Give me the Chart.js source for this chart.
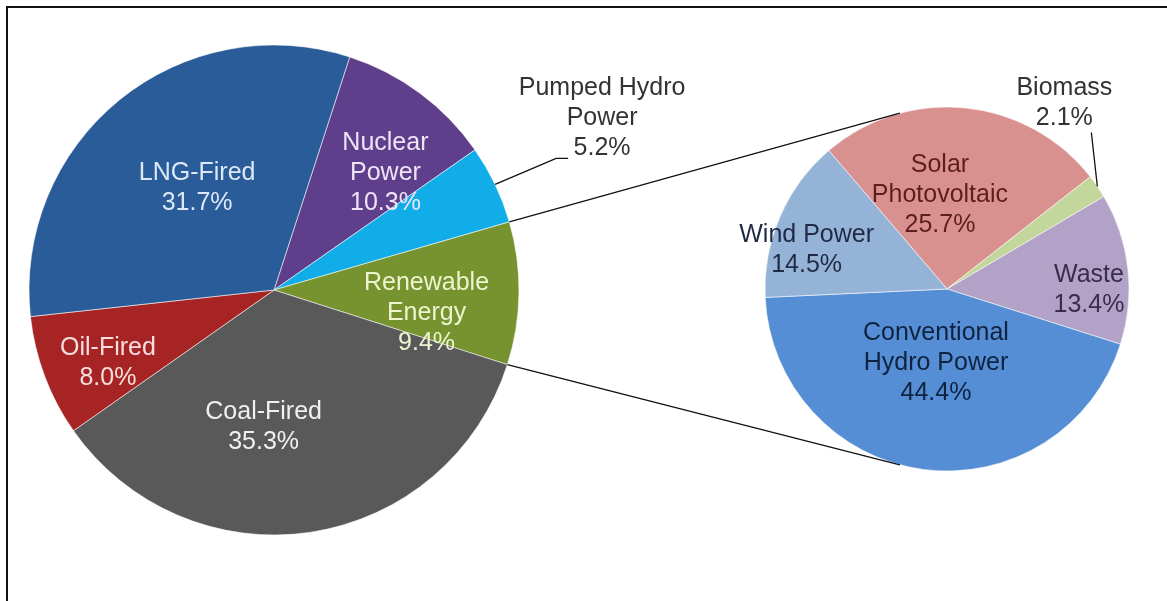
<!DOCTYPE html>
<html>
<head>
<meta charset="utf-8">
<script src="https://cdn.jsdelivr.net/npm/chart.js@4.4.1/dist/chart.umd.min.js"></script>
<style>
  html, body { margin: 0; padding: 0; background: #fff; }
  #wrap { position: relative; width: 1167px; height: 601px; overflow: hidden; }
  #wrap canvas { position: absolute; left: 0; top: 0; }
  #frame { position: absolute; left: 6px; top: 6px; width: 1300px; height: 700px;
           border-left: 2px solid #111; border-top: 2px solid #111; }
</style>
</head>
<body>
<div id="wrap">
  <div id="frame"></div>
  <canvas id="mainPie" width="1167" height="601"></canvas>
  <canvas id="subPie" width="1167" height="601"></canvas>
</div>
<script>
// Generation mix (%), clockwise in drawing order
const mainLabels = [['Nuclear', 'Power'], ['Pumped Hydro', 'Power'], ['Renewable', 'Energy'], ['Coal-Fired'], ['Oil-Fired'], ['LNG-Fired']];
const mainValues = [10.3, 5.2, 9.4, 35.3, 8.0, 31.7];
const mainColors = ['#5f3f8c', '#10ade8', '#76932f', '#595959', '#a62424', '#2a5c9a'];

// Breakdown of "Renewable Energy" (%)
const subLabels = [['Solar', 'Photovoltaic'], ['Biomass'], ['Waste'], ['Conventional', 'Hydro Power'], ['Wind Power']];
const subValues = [25.7, 2.1, 13.4, 44.4, 14.5];
const subColors = ['#d9918f', '#c3d69b', '#b3a2c7', '#558ed5', '#95b3d7'];

const EXPLODED = 2; // index of Renewable Energy in the main pie
const LABEL_FONT = '25px "Liberation Sans", Arial, sans-serif';
const LINE_H = 30;

// label placement: r = fraction of radius, turn = degrees off mid-angle
const mainLabelStyle = [
    { color: '#ede5f5', r: 0.66, turn: 7 },
    { color: '#333333', lead: [61, -26], arm: 12, text: [34, -40] },
    { color: '#eef4cf', r: 0.63, turn: 8 },
    { color: '#f0f0f0', r: 0.56, turn: 13 },
    { color: '#f6dede', r: 0.74, turn: -3 },
    { color: '#dde8f6', r: 0.52, turn: 2 }
];
const subLabelStyle = [
    { color: '#5c1f1e', r: 0.52, turn: -10 },
    { color: '#333333', lead: [-6, -54], arm: 0, text: [-27, -29] },
    { color: '#3a2c4d', r: 0.78, turn: 7 },
    { color: '#0f2340', r: 0.41, turn: 1 },
    { color: '#1f2a44', r: 0.80, turn: -8 }
];

function drawLabels(chart, labels, values, styles) {
    const ctx = chart.ctx;
    const arcs = chart.getDatasetMeta(0).data;
    ctx.save();
    ctx.font = LABEL_FONT;
    ctx.textAlign = 'center';
    ctx.textBaseline = 'middle';
    arcs.forEach((arc, i) => {
        const s = styles[i];
        const p = arc.getProps(['x', 'y', 'startAngle', 'endAngle', 'outerRadius'], true);
        const mid = (p.startAngle + p.endAngle) / 2;
        const lines = labels[i].concat(values[i].toFixed(1) + '%');
        let cx, cy;
        if (s.lead) {
            const ex = p.x + Math.cos(mid) * p.outerRadius;
            const ey = p.y + Math.sin(mid) * p.outerRadius;
            const lx = ex + s.lead[0], ly = ey + s.lead[1];
            ctx.strokeStyle = '#111';
            ctx.lineWidth = 1.3;
            ctx.beginPath();
            ctx.moveTo(ex, ey);
            ctx.lineTo(lx, ly);
            ctx.lineTo(lx + s.arm, ly);
            ctx.stroke();
            cx = lx + s.arm + s.text[0];
            cy = ly + s.text[1];
        } else {
            const a = mid + s.turn * Math.PI / 180;
            cx = p.x + Math.cos(a) * p.outerRadius * s.r;
            cy = p.y + Math.sin(a) * p.outerRadius * s.r;
        }
        ctx.fillStyle = s.color;
        const top = cy - (lines.length - 1) * LINE_H / 2;
        lines.forEach((t, k) => ctx.fillText(t, cx, top + k * LINE_H));
    });
    ctx.restore();
}

function pieOptions(rotation, radius, padding) {
    return {
        responsive: false,
        devicePixelRatio: 1,
        animation: false,
        rotation: rotation,
        radius: radius,
        layout: { padding: padding },
        plugins: { legend: { display: false }, tooltip: { enabled: false } },
        events: []
    };
}

const mainChart = new Chart(document.getElementById('mainPie'), {
    type: 'pie',
    data: {
        labels: mainLabels.map(l => l.join(' ')),
        datasets: [{
            data: mainValues,
            backgroundColor: mainColors,
            borderColor: 'rgba(255,255,255,0.55)',
            borderWidth: 1,
            hoverOffset: 0
        }]
    },
    options: pieOptions(18, 245, { left: 29, right: 648, top: 45, bottom: 66 }),
    plugins: [{
        id: 'mainLabels',
        afterDatasetsDraw: (chart) => drawLabels(chart, mainLabels, mainValues, mainLabelStyle)
    }]
});

// where the connector lines meet the secondary pie (degrees from 12 o'clock)
const joinAngles = [345, 195];

const subChart = new Chart(document.getElementById('subPie'), {
    type: 'pie',
    data: {
        labels: subLabels.map(l => l.join(' ')),
        datasets: [{
            data: subValues,
            backgroundColor: subColors,
            borderColor: 'rgba(255,255,255,0.55)',
            borderWidth: 1,
            hoverOffset: 0
        }]
    },
    options: pieOptions(-40.5, 182, { left: 765, right: 38, top: 107, bottom: 130 }),
    plugins: [{
        id: 'connectors',
        afterDatasetsDraw: (chart) => {
            const ctx = chart.ctx;
            const m = mainChart.getDatasetMeta(0).data[EXPLODED]
                .getProps(['x', 'y', 'startAngle', 'endAngle', 'outerRadius'], true);
            const s = chart.getDatasetMeta(0).data[0].getProps(['x', 'y', 'outerRadius'], true);
            const from = [m.startAngle, m.endAngle];
            ctx.save();
            ctx.strokeStyle = '#111';
            ctx.lineWidth = 1.3;
            from.forEach((a, k) => {
                const b = (joinAngles[k] - 90) * Math.PI / 180;
                ctx.beginPath();
                ctx.moveTo(m.x + Math.cos(a) * m.outerRadius, m.y + Math.sin(a) * m.outerRadius);
                ctx.lineTo(s.x + Math.cos(b) * s.outerRadius, s.y + Math.sin(b) * s.outerRadius);
                ctx.stroke();
            });
            ctx.restore();
            drawLabels(chart, subLabels, subValues, subLabelStyle);
        }
    }]
});
</script>
</body>
</html>
